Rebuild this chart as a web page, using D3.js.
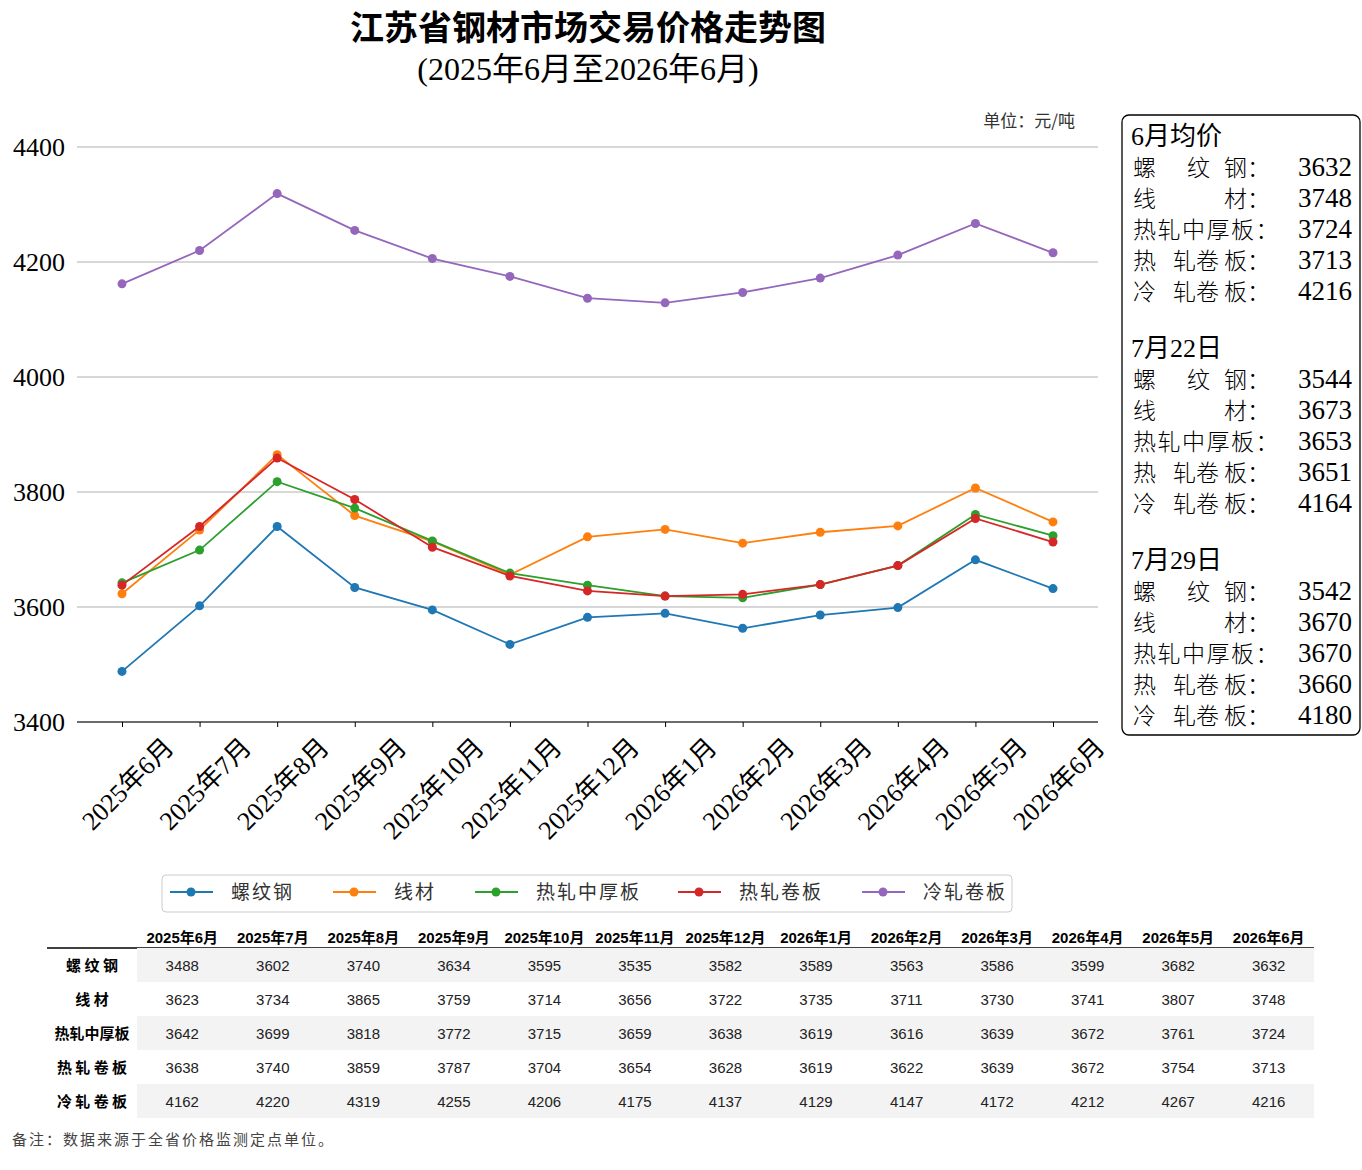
<!DOCTYPE html>
<html><head><meta charset="utf-8">
<script src="https://cdn.jsdelivr.net/npm/d3@7"></script>
<style>body{margin:0;background:#fff}</style>
</head><body>
<svg id="c" width="1362" height="1170"></svg>
<script>
const months = ["2025年6月","2025年7月","2025年8月","2025年9月","2025年10月","2025年11月","2025年12月","2026年1月","2026年2月","2026年3月","2026年4月","2026年5月","2026年6月"];
const seriesNames = ["螺纹钢","线材","热轧中厚板","热轧卷板","冷轧卷板"];
const tableLabels = ["螺 纹 钢","线 材","热轧中厚板","热 轧 卷 板","冷 轧 卷 板"];
const colors = ["#1f77b4","#ff7f0e","#2ca02c","#d62728","#9467bd"];
const luowen = [3488,3602,3740,3634,3595,3535,3582,3589,3563,3586,3599,3682,3632];
const xiancai = [3623,3734,3865,3759,3714,3656,3722,3735,3711,3730,3741,3807,3748];
const zhonghou = [3642,3699,3818,3772,3715,3659,3638,3619,3616,3639,3672,3761,3724];
const rezha = [3638,3740,3859,3787,3704,3654,3628,3619,3622,3639,3672,3754,3713];
const lengzha = [4162,4220,4319,4255,4206,4175,4137,4129,4147,4172,4212,4267,4216];
const allSeries = [luowen,xiancai,zhonghou,rezha,lengzha];
const yTicks = [3400,3600,3800,4000,4200,4400];
const sideBlocks = [
  {title:"6月均价", vals:[3632,3748,3724,3713,4216]},
  {title:"7月22日", vals:[3544,3673,3653,3651,4164]},
  {title:"7月29日", vals:[3542,3670,3670,3660,4180]}
];
const sideLabels = [["螺","纹","钢"],["线","材"],["热轧中厚板"],["热","轧卷","板"],["冷","轧卷","板"]];
const sidePartX = [[1133,1187],[1133],[1133],[1133,1173],[1133,1173]];

const svg = d3.select("#c");
const serif = "'Liberation Serif','Noto Sans CJK SC',serif";
const cjk = "'Noto Sans CJK SC',sans-serif";
const sans = "'Liberation Sans','Noto Sans CJK SC',sans-serif";

svg.append("text").attr("x",588).attr("y",40).attr("text-anchor","middle")
  .style("font-family",serif).style("font-size","34px").style("font-weight","bold").text("江苏省钢材市场交易价格走势图");
svg.append("text").attr("x",588).attr("y",80).attr("text-anchor","middle")
  .style("font-family",serif).style("font-size","32px").text("(2025年6月至2026年6月)");
svg.append("text").attr("x",1075).attr("y",127).attr("text-anchor","end")
  .style("font-family",cjk).style("font-size","17px").attr("fill","#333").text("单位：元/吨");

const L=77,R=1098,T=147,B=722;
const x = d3.scalePoint().domain(months).range([122,1053]);
const y = d3.scaleLinear().domain([3400,4400]).range([B,T]);

const g = svg.append("g");
g.selectAll(".grid").data(yTicks).join("line")
  .attr("x1",L).attr("x2",R).attr("y1",d=>y(d)).attr("y2",d=>y(d)).attr("stroke","#b0b0b0").attr("stroke-width",1);
const ya = g.append("g").attr("transform",`translate(${L},0)`).call(d3.axisLeft(y).tickValues(yTicks).tickFormat(d3.format("d")).tickSize(0).tickPadding(12));
ya.select(".domain").remove();
ya.selectAll("text").style("font-family",serif).style("font-size","26px").attr("fill","#000");
const xa = g.append("g").attr("transform",`translate(0,${B})`).call(d3.axisBottom(x).tickSize(5));
xa.select(".domain").attr("stroke","#000").attr("d",`M${L},0H${R}`);
xa.selectAll("text").style("font-family",serif).style("font-size","26px").attr("fill","#000")
  .attr("text-anchor","end").attr("y",0).attr("dx",0).attr("dy","0.7em").attr("transform","translate(40,14) rotate(-45)");

const line = d3.line().x((d,i)=>x(months[i])).y(d=>y(d));
allSeries.forEach((s,k)=>{
  g.append("path").datum(s).attr("d",line).attr("fill","none").attr("stroke",colors[k]).attr("stroke-width",1.8);
  g.selectAll(null).data(s).join("circle").attr("cx",(d,i)=>x(months[i])).attr("cy",d=>y(d)).attr("r",4.5).attr("fill",colors[k]);
});

// side box
svg.append("rect").attr("x",1122).attr("y",115).attr("width",238).attr("height",620).attr("rx",7)
  .attr("fill","#fff").attr("stroke","#000").attr("stroke-width",1.3);
sideBlocks.forEach((b,bi)=>{
  const y0 = 145 + bi*212;
  svg.append("text").attr("x",1131).attr("y",y0).style("font-family",serif).style("font-size","26px").text(b.title);
  b.vals.forEach((v,j)=>{
    const yy = y0 + 31*(j+1);
    const parts = sideLabels[j];
    const t = svg.append("text").attr("y",yy).style("font-family",cjk).style("font-size","23px").style("font-weight","300");
    parts.forEach((p,pi)=>{
      const last = pi===parts.length-1 && parts.length>1;
      t.append("tspan").attr("x", last ? 1270 : sidePartX[j][pi]).attr("text-anchor", last ? "end" : "start")
        .style("letter-spacing", parts.length===1 ? "1.5px" : "0px").text(p + (pi===parts.length-1 ? "：" : ""));
    });
    svg.append("text").attr("x",1352).attr("y",yy).attr("text-anchor","end").style("font-family",serif).style("font-size","27px").text(v);
  });
});

// legend
svg.append("rect").attr("x",162).attr("y",875).attr("width",850).attr("height",37).attr("rx",4)
  .attr("fill","#fff").attr("stroke","#ccc");
const legX = [170,333,475,678,862];
seriesNames.forEach((n,k)=>{
  const lx = legX[k];
  svg.append("line").attr("x1",lx).attr("x2",lx+43).attr("y1",892).attr("y2",892).attr("stroke",colors[k]).attr("stroke-width",1.8);
  svg.append("circle").attr("cx",lx+21).attr("cy",892).attr("r",4.5).attr("fill",colors[k]);
  svg.append("text").attr("x",lx+61).attr("y",899).style("font-family",cjk).style("font-size","19px").style("letter-spacing","2px").attr("fill","#333").text(n);
});

// table
const tx = d3.scaleBand().domain(months).range([137,1314]);
const rowH = 34, ty0 = 948;
months.forEach(m=>{
  svg.append("text").attr("x",tx(m)+tx.bandwidth()/2).attr("y",943).attr("text-anchor","middle")
    .style("font-family",sans).style("font-size","15px").style("font-weight","bold").text(m);
});
svg.append("line").attr("x1",47).attr("x2",1314).attr("y1",948).attr("y2",948).attr("stroke","#000").attr("stroke-width",1.5);
allSeries.forEach((s,r)=>{
  const ry = ty0 + r*rowH;
  if(r%2===0) svg.append("rect").attr("x",137).attr("y",ry).attr("width",1177).attr("height",rowH).attr("fill","#f3f3f3");
  svg.append("text").attr("x",92).attr("y",ry+23).attr("text-anchor","middle")
    .style("font-family",cjk).style("font-size","15px").style("font-weight","bold").text(tableLabels[r]);
  s.forEach((v,i)=>{
    svg.append("text").attr("x",tx(months[i])+tx.bandwidth()/2).attr("y",ry+23).attr("text-anchor","middle")
      .style("font-family",sans).style("font-size","15px").attr("fill","#222").text(v);
  });
});
svg.append("text").attr("x",12).attr("y",1145).style("font-family",cjk).style("font-size","15px")
  .style("letter-spacing","2px").attr("fill","#444").text("备注：数据来源于全省价格监测定点单位。");
</script>
</body></html>
